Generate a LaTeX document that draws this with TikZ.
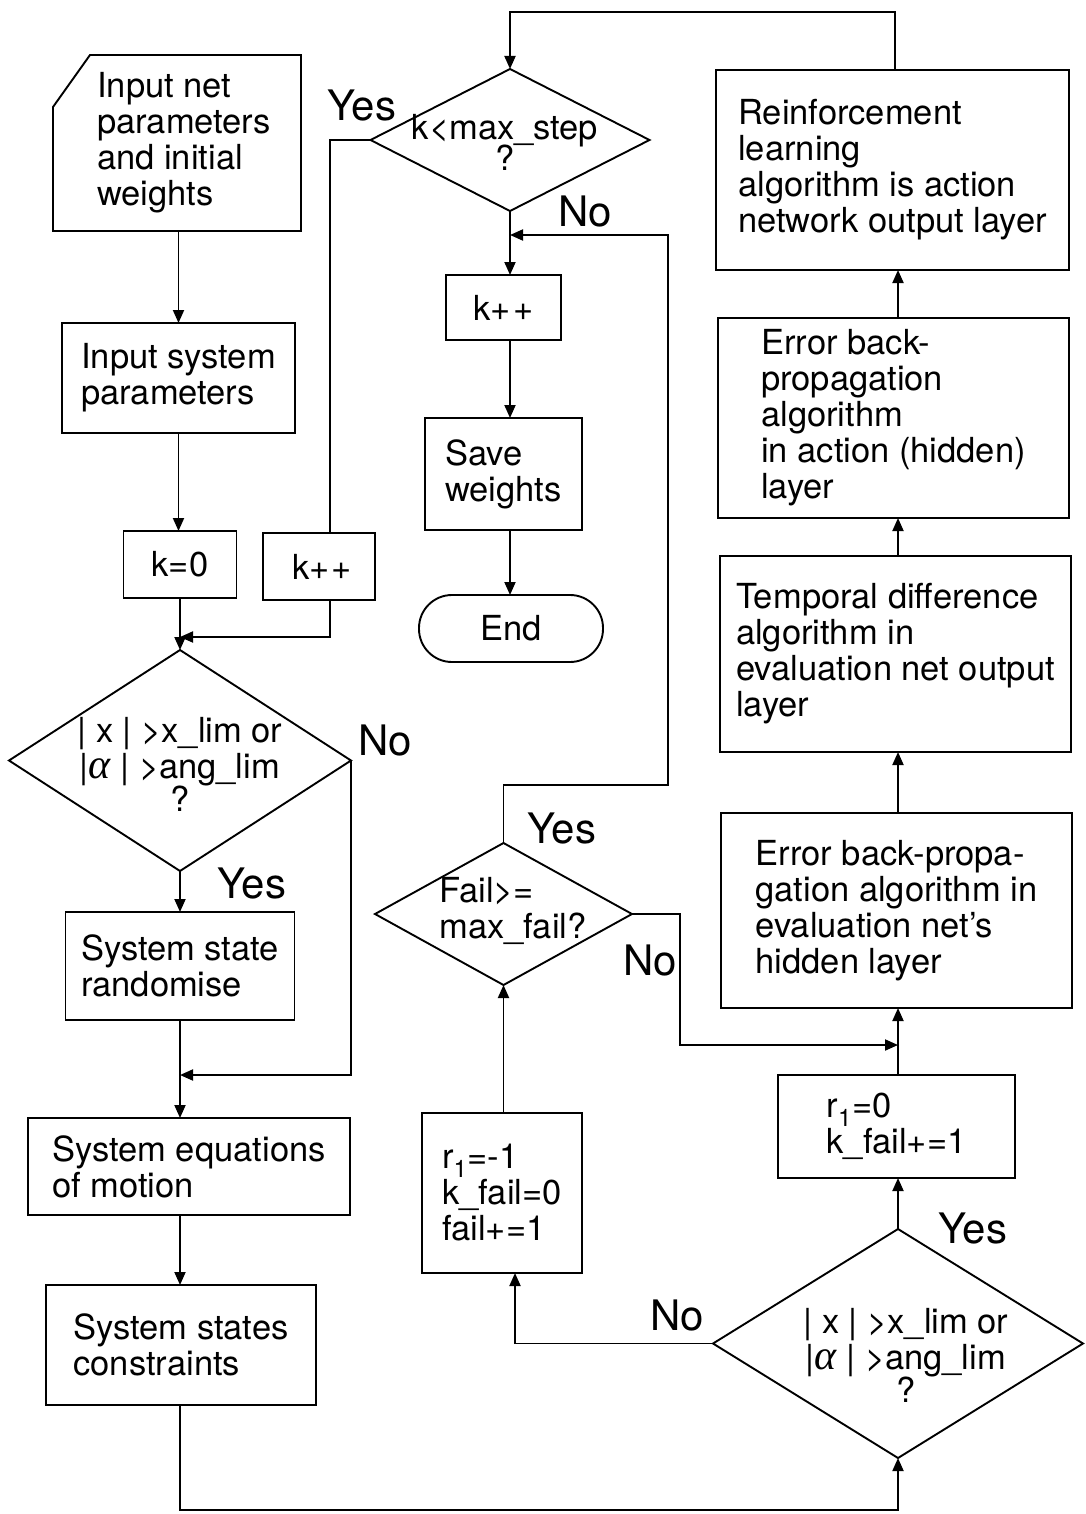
\documentclass[tikz,border=0pt]{standalone}
\usepackage{fontspec}
\setmainfont{TeX Gyre Heros}
\newfontfamily\grkfont{Liberation Serif}
\usetikzlibrary{arrows.meta,shapes.geometric}
\newcommand\boxfont{\fontsize{34.5}{36}\selectfont}
\newcommand\ynfont{\fontsize{42}{46}\selectfont}
\newcommand\alfa{{\grkfont\itshape\fontsize{42}{36}\selectfont α}}
\begin{document}
\begin{tikzpicture}[x=1pt,y=-1pt,line width=1.9pt,
  box/.style={draw,rectangle,inner sep=2pt,outer sep=0pt,align=left,font=\boxfont},
  dia/.style={draw,diamond,inner sep=0pt,outer sep=0pt},
  dtext/.style={font=\boxfont,inner sep=0pt},
  yn/.style={font=\ynfont,inner sep=0pt},
  arr/.style={-{Triangle[length=13pt,width=11pt]}}]
\useasboundingbox (0,0) rectangle (1085,1514);

% left column
\draw (53,107) -- (90,55) -- (301,55) -- (301,231) -- (53,231) -- cycle;
\node[font=\boxfont,align=left,minimum width=248pt,minimum height=176pt,inner sep=0pt,outer sep=0pt] (card) at (184,143) {Input net\\parameters\\and initial\\weights};
\node[box,minimum width=233pt,minimum height=110pt] (isp) at (178.5,378) {Input system\\parameters};
\node[box,minimum width=113pt,minimum height=67pt] (k0) at (180,564.5) {k=0};
\node[box,minimum width=112pt,minimum height=67pt] (kpp1) at (319,566.5) {\,k+\kern2pt+};
\node[dia,minimum width=342pt,minimum height=221pt] (d1) at (180,760.5) {};
\node[dtext,align=center] (d1t) at (180,764) {| x | >x\_lim or\\|\alfa\ | >ang\_lim\\[-3pt]?};
\node[box,minimum width=229pt,minimum height=108pt] (rand) at (180,966) {System state\\randomise};
\node[box,minimum width=322pt,minimum height=97pt] (eqm) at (189,1166.5) {System equations\\of motion};
\node[box,minimum width=270pt,minimum height=120pt] (cons) at (181,1345) {System states\\constraints};

% middle column
\node[dia,minimum width=279pt,minimum height=142pt] (d0) at (510,140) {};
\node[dtext,align=center] (d0t) at (505,142) {k<max\_step\\[-5pt]?};
\node[box,minimum width=115pt,minimum height=65pt] (kpp2) at (503.5,307.5) {k+\kern2pt+};
\node[box,minimum width=157pt,minimum height=112pt] (save) at (503.5,474) {Save\\weights};
\node[box,rounded corners=33pt,minimum width=184pt,minimum height=67pt,align=center] (endn) at (511,628.5) {End};
\node[dia,minimum width=257pt,minimum height=142pt] (fail) at (503.5,914) {};
\node[dtext,align=left] (failt) at (513,911) {Fail>=\\max\_fail?};
\node[box,minimum width=160pt,minimum height=160pt] (rm1) at (502,1193) {r\textsubscript{1}=-1\\k\_fail=0\\fail+=1};

% right column
\node[box,minimum width=353pt,minimum height=200pt] (rl) at (892.5,170) {Reinforcement\\learning\\algorithm is action\\network output layer};
\node[box,minimum width=351pt,minimum height=200pt] (eba) at (893.5,418) {Error back-\\propagation\\algorithm\\in action (hidden)\\layer};
\node[box,minimum width=351pt,minimum height=196pt] (td) at (895.5,654) {Temporal difference\\algorithm in\\evaluation net output\\layer};
\node[box,minimum width=351pt,minimum height=195pt] (ebe) at (896.5,910.5) {Error back-propa-\\gation algorithm in\\evaluation net's\\hidden layer};
\node[box,minimum width=237pt,minimum height=103pt] (r0) at (896.5,1126.5) {r\textsubscript{1}=0\\k\_fail+=1};
\node[dia,minimum width=370pt,minimum height=229pt] (d2) at (898,1343.5) {};
\node[dtext,align=center] (d2t) at (906,1355) {| x | >x\_lim or\\|\alfa\ | >ang\_lim\\[-3pt]?};

% labels
\node[yn] (y0) at (362,106) {Yes};
\node[yn] (n0) at (585,212) {No};
\node[yn] (n1) at (385,740) {No};
\node[yn] (y1) at (252,883) {Yes};
\node[yn] (yf) at (562,828) {Yes};
\node[yn] (nf) at (650,960) {No};
\node[yn] (n2) at (677,1315) {No};
\node[yn] (y2) at (973,1228) {Yes};

% helper coordinates
\coordinate (m1) at (180,637);
\coordinate (m2) at (180,1075);
\coordinate (m3) at (510,235);
\coordinate (c3) at (668,785);
\coordinate (c4) at (680,1045);
\coordinate (top) at (895,12);

% connectors left
\draw[arr] (isp.north |- card.south) -- (isp.north);
\draw[arr] (isp.south) -- (isp.south |- k0.north);
\draw (d0.west) -| ([xshift=11pt]kpp1.north);
\draw[arr] ([xshift=11pt]kpp1.south) |- (m1);
\draw[arr] (k0.south) -- (d1.north);
\draw[arr] (d1.south) -- (rand.north);
\draw[arr] (d1.east) |- (m2);
\draw[arr] (rand.south) -- (rand.south |- eqm.north);
\draw[arr] (eqm.south -| rand.south) -- (cons.north -| rand.south);
\draw[arr] (cons.south -| rand.south) -- ++(0,105) -| (d2.south);

% connectors middle
\draw[arr] (d0.south) -- (d0.south |- kpp2.north);
\draw[arr] (kpp2.south -| d0.south) -- (save.north -| d0.south);
\draw[arr] (save.south -| d0.south) -- (endn.north -| d0.south);
\draw[arr] (fail.north) |- (c3) |- (m3);
\draw[arr] (fail.east) -| (c4) -- (d2.north |- c4);
\draw[arr] (d2.west) -| ([xshift=13pt]rm1.south);
\draw[arr] (rm1.north -| fail.south) -- (fail.south);

% connectors right
\draw[arr] (d2.north) -- (d2.north |- r0.south);
\draw[arr] (r0.north -| d2.north) -- (ebe.south -| d2.north);
\draw[arr] (ebe.north -| d2.north) -- (td.south -| d2.north);
\draw[arr] (td.north -| d2.north) -- (eba.south -| d2.north);
\draw[arr] (eba.north -| d2.north) -- (rl.south -| d2.north);
\draw[arr] (rl.north -| top) -- (top) -| (d0.north);
\end{tikzpicture}
\end{document}
